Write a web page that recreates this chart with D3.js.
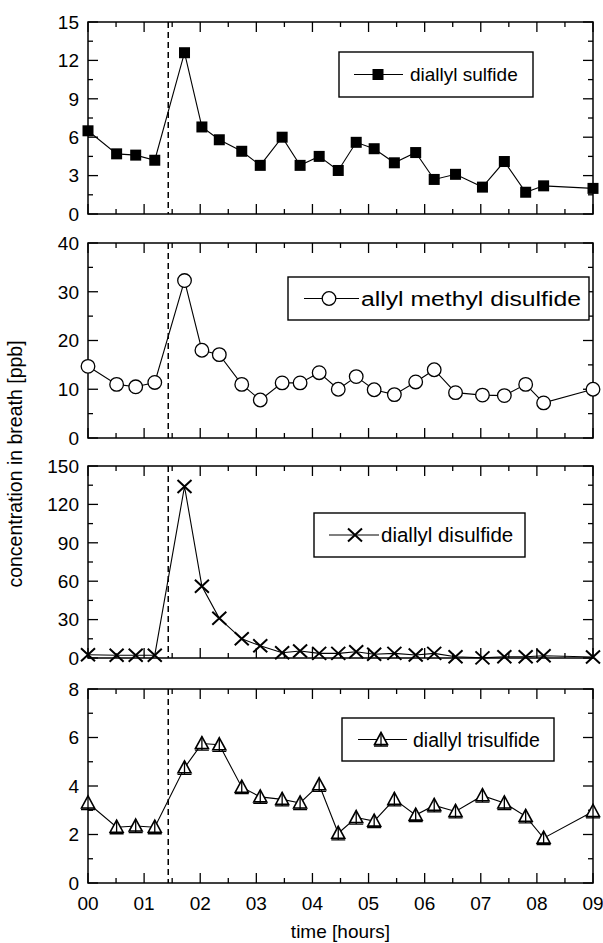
<!DOCTYPE html>
<html>
    <head>
        <title>breath sulfides</title>
        <meta charset="UTF-8">
        <script type="text/javascript" src="https://cdnjs.cloudflare.com/ajax/libs/d3/7.8.5/d3.min.js"></script>
        <style type="text/css">
            body { margin: 0; background: #fff; }
            text { font-family: "Liberation Sans", Arial, sans-serif; fill: #000; }
        </style>
    </head>
    <body>
        <div id="chart"></div>

        <script type="text/javascript">
            // sampling times in hours
            var hours = [0, 0.51, 0.85, 1.19, 1.72, 2.03, 2.34, 2.74, 3.07, 3.46, 3.78, 4.12,
                4.46, 4.78, 5.1, 5.46, 5.84, 6.17, 6.55, 7.03, 7.42, 7.8, 8.12, 9.0];

            // concentrations in ppb
            var diallylSulfide = [6.5, 4.7, 4.6, 4.2, 12.6, 6.8, 5.8, 4.9, 3.8, 6.0, 3.8, 4.5,
                3.4, 5.6, 5.1, 4.0, 4.8, 2.7, 3.1, 2.1, 4.1, 1.7, 2.2, 2.0];
            var allylMethylDisulfide = [14.7, 11.0, 10.5, 11.4, 32.3, 18.0, 17.1, 11.0, 7.8, 11.3, 11.3, 13.4,
                10.0, 12.6, 9.9, 8.9, 11.5, 14.0, 9.3, 8.8, 8.7, 11.0, 7.2, 10.0];
            var diallylDisulfide = [2.5, 2.2, 2.2, 2.2, 134, 56, 31, 15, 9.5, 4.1, 5.5, 3.6,
                3.6, 4.9, 2.9, 3.6, 2.3, 3.6, 1.0, 0.1, 1.0, 1.0, 1.8, 0.8];
            var diallylTrisulfide = [3.3, 2.3, 2.35, 2.3, 4.75, 5.75, 5.7, 3.95, 3.55, 3.45, 3.3, 4.05,
                2.05, 2.7, 2.55, 3.45, 2.8, 3.2, 2.95, 3.6, 3.3, 2.75, 1.85, 2.95];

            var seriesNames = ["diallyl sulfide", "allyl methyl disulfide", "diallyl disulfide", "diallyl trisulfide"];
            var yMaxes = [15, 40, 150, 8];
            var ySteps = [3, 10, 30, 2];
            var xTickLabels = ["00", "01", "02", "03", "04", "05", "06", "07", "08", "09"];
            var garlicTime = 1.43;   // dashed marker
            var xTitle = "time [hours]";
            var yTitle = "concentration in breath [ppb]";

            var svgW = 603, svgH = 943;
            var left = 88, right = 593;
            // legend: box, line ends, marker centre, text start, text width (0 = natural)
            var panels = [
                {top: 22, bottom: 214, values: diallylSulfide, marker: "square",
                    legend: {x: 339, y: 52, w: 194, h: 45, lx1: 354, lx2: 403, mx: 378, tx: 410, tw: 0, fs: 19}},
                {top: 243, bottom: 438, values: allylMethylDisulfide, marker: "circle",
                    legend: {x: 288, y: 277, w: 301, h: 43, lx1: 304, lx2: 359, mx: 329, tx: 361, tw: 220, fs: 20}},
                {top: 466, bottom: 658, values: diallylDisulfide, marker: "cross",
                    legend: {x: 314, y: 513, w: 211, h: 44, lx1: 329, lx2: 379, mx: 355, tx: 381, tw: 0, fs: 20.5}},
                {top: 689, bottom: 883, values: diallylTrisulfide, marker: "triangle",
                    legend: {x: 342, y: 718, w: 212, h: 43, lx1: 358, lx2: 407, mx: 381, tx: 413, tw: 0, fs: 19.5}}
            ];

            var svg = d3.select("#chart").append("svg")
                    .attr("width", svgW)
                    .attr("height", svgH);

            var x = d3.scaleLinear().domain([0, 9]).range([left, right]);
            var majorX = d3.range(0, 10);
            var minorX = d3.range(0.5, 9, 1);

            function drawMarker(g, type, cx, cy) {
                if (type === "square") {
                    g.append("rect").attr("x", cx - 5.5).attr("y", cy - 5.5)
                            .attr("width", 11).attr("height", 11).attr("fill", "#000");
                } else if (type === "circle") {
                    g.append("circle").attr("cx", cx).attr("cy", cy).attr("r", 6.8)
                            .attr("fill", "#fff").attr("stroke", "#000").attr("stroke-width", 1.3);
                } else if (type === "cross") {
                    g.append("path")
                            .attr("d", "M" + (cx - 7) + "," + (cy - 6.5) + "L" + (cx + 7) + "," + (cy + 6.5) +
                                    "M" + (cx - 7) + "," + (cy + 6.5) + "L" + (cx + 7) + "," + (cy - 6.5))
                            .attr("stroke", "#000").attr("stroke-width", 2).attr("fill", "none");
                } else {
                    g.append("path")
                            .attr("d", "M" + cx + "," + (cy - 7) + "L" + (cx + 6.5) + "," + (cy + 5) +
                                    "L" + (cx - 6.5) + "," + (cy + 5) + "Z")
                            .attr("fill", "#fff").attr("stroke", "#000").attr("stroke-width", 1.6);
                    g.append("path")
                            .attr("d", "M" + cx + "," + (cy - 7) + "L" + cx + "," + (cy + 7) +
                                    "M" + (cx - 7) + "," + (cy + 6.5) + "L" + (cx + 7) + "," + (cy + 6.5))
                            .attr("stroke", "#000").attr("stroke-width", 1.3).attr("fill", "none");
                }
            }

            panels.forEach(function (p, k) {
                var y = d3.scaleLinear().domain([0, yMaxes[k]]).range([p.bottom, p.top]);
                var majorY = d3.range(0, yMaxes[k] + 0.001, ySteps[k]);
                var minorY = d3.range(ySteps[k] / 2, yMaxes[k], ySteps[k]);
                var g = svg.append("g");

                // inward ticks on all four sides
                var ticks = g.append("g").attr("stroke", "#000").attr("stroke-width", 1.3);
                [[majorX, 10], [minorX, 5]].forEach(function (t) {
                    t[0].forEach(function (v) {
                        ticks.append("line").attr("x1", x(v)).attr("x2", x(v))
                                .attr("y1", p.bottom).attr("y2", p.bottom - t[1]);
                        ticks.append("line").attr("x1", x(v)).attr("x2", x(v))
                                .attr("y1", p.top).attr("y2", p.top + t[1]);
                    });
                });
                [[majorY, 10], [minorY, 5]].forEach(function (t) {
                    t[0].forEach(function (v) {
                        ticks.append("line").attr("y1", y(v)).attr("y2", y(v))
                                .attr("x1", left).attr("x2", left + t[1]);
                        ticks.append("line").attr("y1", y(v)).attr("y2", y(v))
                                .attr("x1", right).attr("x2", right - t[1]);
                    });
                });

                g.append("rect").attr("x", left).attr("y", p.top)
                        .attr("width", right - left).attr("height", p.bottom - p.top)
                        .attr("fill", "none").attr("stroke", "#000").attr("stroke-width", 1.5);

                g.selectAll(".ylab").data(majorY).enter().append("text")
                        .attr("x", left - 9).attr("y", function (d) { return y(d); })
                        .attr("dy", "0.36em")
                        .attr("text-anchor", "end")
                        .style("font-size", "19px")
                        .text(function (d) { return d; });

                g.append("line").attr("x1", x(garlicTime)).attr("x2", x(garlicTime))
                        .attr("y1", p.top).attr("y2", p.bottom)
                        .attr("stroke", "#000").attr("stroke-width", 1.5)
                        .attr("stroke-dasharray", "6,4");

                var line = d3.line()
                        .x(function (d, i) { return x(hours[i]); })
                        .y(function (d) { return y(d); });
                g.append("path").datum(p.values).attr("d", line)
                        .attr("fill", "none").attr("stroke", "#000").attr("stroke-width", 1.1);

                var marks = g.append("g");
                p.values.forEach(function (v, i) {
                    drawMarker(marks, p.marker, x(hours[i]), y(v));
                });

                // legend box
                var L = p.legend;
                var lg = g.append("g");
                lg.append("rect").attr("x", L.x).attr("y", L.y).attr("width", L.w).attr("height", L.h)
                        .attr("fill", "#fff").attr("stroke", "#000").attr("stroke-width", 1.4);
                lg.append("line").attr("x1", L.lx1).attr("x2", L.lx2)
                        .attr("y1", L.y + L.h / 2).attr("y2", L.y + L.h / 2)
                        .attr("stroke", "#000").attr("stroke-width", 1.1);
                drawMarker(lg, p.marker, L.mx, L.y + L.h / 2);
                var lt = lg.append("text").attr("x", L.tx).attr("y", L.y + L.h / 2)
                        .attr("dy", "0.36em")
                        .style("font-size", L.fs + "px")
                        .text(seriesNames[k]);
                if (L.tw) {
                    lt.attr("textLength", L.tw).attr("lengthAdjust", "spacingAndGlyphs");
                }

                if (k === panels.length - 1) {
                    g.selectAll(".xlab").data(majorX).enter().append("text")
                            .attr("x", function (d) { return x(d); })
                            .attr("y", p.bottom + 27)
                            .attr("text-anchor", "middle")
                            .style("font-size", "19px")
                            .text(function (d) { return xTickLabels[d]; });
                }
            });

            svg.append("text")
                    .attr("x", (left + right) / 2).attr("y", 938)
                    .attr("text-anchor", "middle")
                    .style("font-size", "19px")
                    .text(xTitle);

            svg.append("text")
                    .attr("transform", "translate(22,464) rotate(-90)")
                    .attr("text-anchor", "middle")
                    .style("font-size", "19.5px")
                    .text(yTitle);
        </script>
    </body>
</html>
